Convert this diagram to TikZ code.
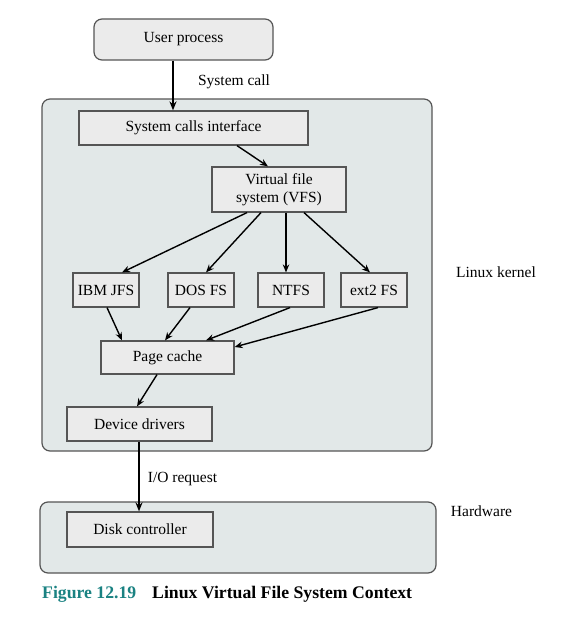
\documentclass[tikz,border=0pt]{standalone}
\usepackage{fontspec}
\setmainfont{Liberation Serif}
\usetikzlibrary{arrows.meta}
\definecolor{boxfill}{RGB}{235,235,235}
\definecolor{regionfill}{RGB}{226,232,232}
\definecolor{edgegray}{RGB}{85,85,85}
\definecolor{figteal}{RGB}{26,130,130}
\begin{document}
\begin{tikzpicture}[x=1pt,y=-1pt,
  every node/.style={font=\fontsize{15.5}{18}\selectfont},
  region/.style={draw=edgegray,line width=1.2pt,fill=regionfill,rounded corners=8pt,inner sep=0pt},
  fsbox/.style={draw=edgegray,line width=1.2pt,fill=boxfill,inner sep=0pt,align=center},
  rfsbox/.style={fsbox,rounded corners=8pt},
  plain/.style={inner sep=0pt},
  conn/.style={line width=1.4pt,-{Stealth[length=8pt,width=6.5pt]}},
  bigconn/.style={line width=2.4pt,-{Stealth[length=9pt,width=7pt]}}
]
\useasboundingbox (0,0) rectangle (560,618);
% regions
\node[region,minimum width=390pt,minimum height=352pt] (kernel) at (237,275) {};
\node[region,minimum width=396pt,minimum height=71pt] (hw) at (238,537.5) {};
% boxes
\node[rfsbox,minimum width=179pt,minimum height=41pt] (user) at (183.5,39.5) {User process};
\node[fsbox,minimum width=229pt,minimum height=34pt] (sci) at (193.5,128) {System calls interface};
\node[fsbox,minimum width=134pt,minimum height=45pt] (vfs) at (279,189.5) {Virtual file\\system (VFS)};
\node[fsbox,minimum width=66pt,minimum height=34pt] (ibm) at (106,290) {IBM JFS};
\node[fsbox,minimum width=66pt,minimum height=34pt] (dos) at (201,290) {DOS FS};
\node[fsbox,minimum width=66pt,minimum height=34pt] (ntfs) at (291,290) {NTFS};
\node[fsbox,minimum width=66pt,minimum height=34pt] (ext2) at (374,290) {ext2 FS};
\node[fsbox,minimum width=133pt,minimum height=33pt] (page) at (167.5,357.5) {Page cache};
\node[fsbox,minimum width=145pt,minimum height=34pt] (dev) at (139.5,424) {Device drivers};
\node[fsbox,minimum width=146pt,minimum height=35pt] (disk) at (140,529.5) {Disk controller};
% labels
\node[plain] (lsys) at (234,82) {System call};
\node[plain] (lkern) at (496,272) {Linux kernel};
\node[plain] (lio) at (182.5,479) {I/O request};
\node[plain] (lhw) at (481.5,511) {Hardware};
\node[plain,anchor=west,font=\fontsize{17.7}{20}\selectfont\bfseries,text=figteal] (cap1) at (42,594) {Figure 12.19};
\node[plain,anchor=west,font=\fontsize{17.7}{20}\selectfont\bfseries] (cap2) at (152,594) {Linux Virtual File System Context};
% connectors
\draw[bigconn] ([xshift=-10.5pt]user.south) -- ([xshift=-20.5pt]sci.north);
\draw[conn] ([xshift=43.5pt]sci.south) -- ([xshift=-11pt]vfs.north);
\draw[conn] ([xshift=-32pt]vfs.south) -- ([xshift=16pt]ibm.north);
\draw[conn] ([xshift=-18pt]vfs.south) -- ([xshift=5pt]dos.north);
\draw[conn] ([xshift=7pt]vfs.south) -- ([xshift=-5pt]ntfs.north);
\draw[conn] ([xshift=25pt]vfs.south) -- ([xshift=-4pt]ext2.north);
\draw[conn] ([xshift=1pt]ibm.south) -- ([xshift=-45.5pt]page.north);
\draw[conn] ([xshift=-11pt]dos.south) -- ([xshift=-2.5pt]page.north);
\draw[conn] ([xshift=-1pt]ntfs.south) -- ([xshift=38.5pt]page.north);
\draw[conn] ([xshift=4pt]ext2.south) -- ([yshift=10.5pt]page.east);
\draw[conn] ([xshift=-10.5pt]page.south) -- ([xshift=-2.5pt]dev.north);
\draw[bigconn] ([xshift=-0.5pt]dev.south) -- ([xshift=-1pt]disk.north);
\end{tikzpicture}
\end{document}
